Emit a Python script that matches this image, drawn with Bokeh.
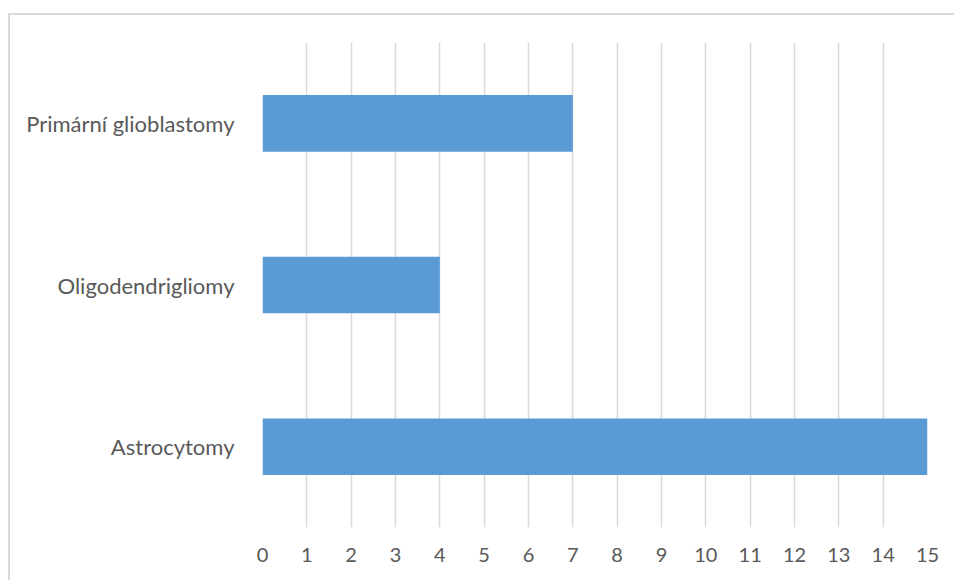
from bokeh.plotting import figure
from bokeh.models import FactorRange, Range1d, FixedTicker
from bokeh.embed import file_html
from bokeh.resources import INLINE

# Tumour types (bottom to top) and their counts
categories = ["Astrocytomy", "Oligodendrigliomy", "Primární glioblastomy"]
counts = [15, 4, 7]
x_ticks = list(range(0, 16))

p = figure(
    width=946, height=567,
    y_range=FactorRange(*categories, range_padding=0),
    x_range=Range1d(0, 15),
    output_backend="svg", toolbar_location=None,
    min_border_left=252, min_border_right=29,
    min_border_top=27, min_border_bottom=55,
)
p.margin = (13, 0, 0, 8)
p.styles = {"border-left": "2px solid #d9d9d9", "border-top": "2px solid #d9d9d9"}

p.hbar(y=categories, right=counts, left=0, height=0.35,
       fill_color="#5b9bd5", line_color=None)

p.outline_line_color = None
p.ygrid.grid_line_color = None
p.xgrid.grid_line_color = "#d9d9d9"
p.xgrid.grid_line_width = 1.5
p.xaxis.ticker = FixedTicker(ticks=x_ticks)

for ax in (p.xaxis, p.yaxis):
    ax.axis_line_color = None
    ax.major_tick_line_color = None
    ax.minor_tick_line_color = None
    ax.major_label_text_font = "Lato"
    ax.major_label_text_color = "#595959"

p.xaxis.major_label_text_font_size = "20px"
p.yaxis.major_label_text_font_size = "22px"
p.xaxis.major_label_standoff = 14
p.yaxis.major_label_standoff = 22

open("out.html", "w").write(file_html(p, INLINE))
